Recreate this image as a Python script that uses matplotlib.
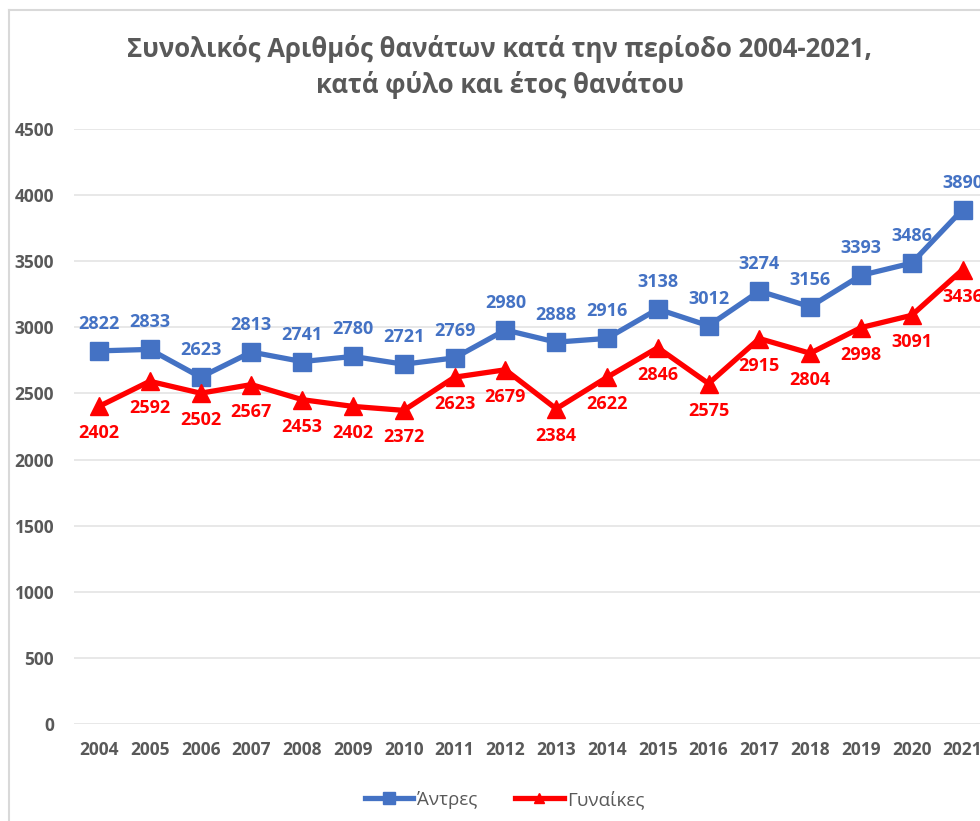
import matplotlib
matplotlib.use("Agg")
import matplotlib.pyplot as plt
from matplotlib.lines import Line2D

plt.rcParams['font.family'] = ['Open Sans', 'DejaVu Sans']

# Data
years = [2004, 2005, 2006, 2007, 2008, 2009, 2010, 2011, 2012,
         2013, 2014, 2015, 2016, 2017, 2018, 2019, 2020, 2021]
men = [2822, 2833, 2623, 2813, 2741, 2780, 2721, 2769, 2980,
       2888, 2916, 3138, 3012, 3274, 3156, 3393, 3486, 3890]
women = [2402, 2592, 2502, 2567, 2453, 2402, 2372, 2623, 2679,
         2384, 2622, 2846, 2575, 2915, 2804, 2998, 3091, 3436]
yticks = [0, 500, 1000, 1500, 2000, 2500, 3000, 3500, 4000, 4500]

title = "Συνολικός Αριθμός θανάτων κατά την περίοδο 2004-2021,\nκατά φύλο και έτος θανάτου"
blue = "#4472C4"
red = "#FF0000"
gray = "#595959"

fig = plt.figure(figsize=(9.8, 8.21), dpi=100)
ax = fig.add_axes([0.0751, 0.1181, 0.933, 0.7248])

ax.plot(years, men, color=blue, lw=3.8, marker="s", ms=13.5, label="Άντρες")
ax.plot(years, women, color=red, lw=3.8, marker="^", ms=12.5, label="Γυναίκες")

for x, y in zip(years, men):
    ax.annotate(str(y), (x, y), xytext=(0, 13), textcoords="offset points",
                ha="center", va="bottom", color=blue, fontsize=13, fontweight="bold")
for x, y in zip(years, women):
    ax.annotate(str(y), (x, y), xytext=(0, -13), textcoords="offset points",
                ha="center", va="top", color=red, fontsize=13, fontweight="bold")

ax.set_xlim(2003.5, 2021.5)
ax.set_ylim(0, 4500)
ax.set_yticks(yticks)
ax.set_xticks(years)
ax.grid(axis="y", color="#E4E4E4", lw=1.2)
ax.set_axisbelow(True)
for s in ax.spines.values():
    s.set_visible(False)
ax.tick_params(length=0, labelcolor=gray, labelsize=12.5)
ax.tick_params(axis="y", pad=14)
ax.tick_params(axis="x", pad=12)
for lab in ax.get_xticklabels() + ax.get_yticklabels():
    lab.set_fontweight("bold")

fig.text(0.51, 0.918, title, ha="center", va="center", fontsize=18.5,
         fontweight="bold", color=gray, linespacing=1.35)

leg = fig.legend(loc="center", bbox_to_anchor=(0.515, 0.026), ncol=2, frameon=False,
                 fontsize=13.5, handlelength=2.6, columnspacing=2.0, handletextpad=0.2,
                 markerscale=0.6)
for t in leg.get_texts():
    t.set_color(gray)

# chart frame (cropped at right and bottom)
fig.add_artist(Line2D([9 / 980, 9 / 980], [0, 1 - 10 / 821], transform=fig.transFigure,
                      color="#D9D9D9", lw=1.5))
fig.add_artist(Line2D([9 / 980, 1], [1 - 10 / 821, 1 - 10 / 821], transform=fig.transFigure,
                      color="#D9D9D9", lw=1.5))

fig.savefig("out.png", dpi=100)
